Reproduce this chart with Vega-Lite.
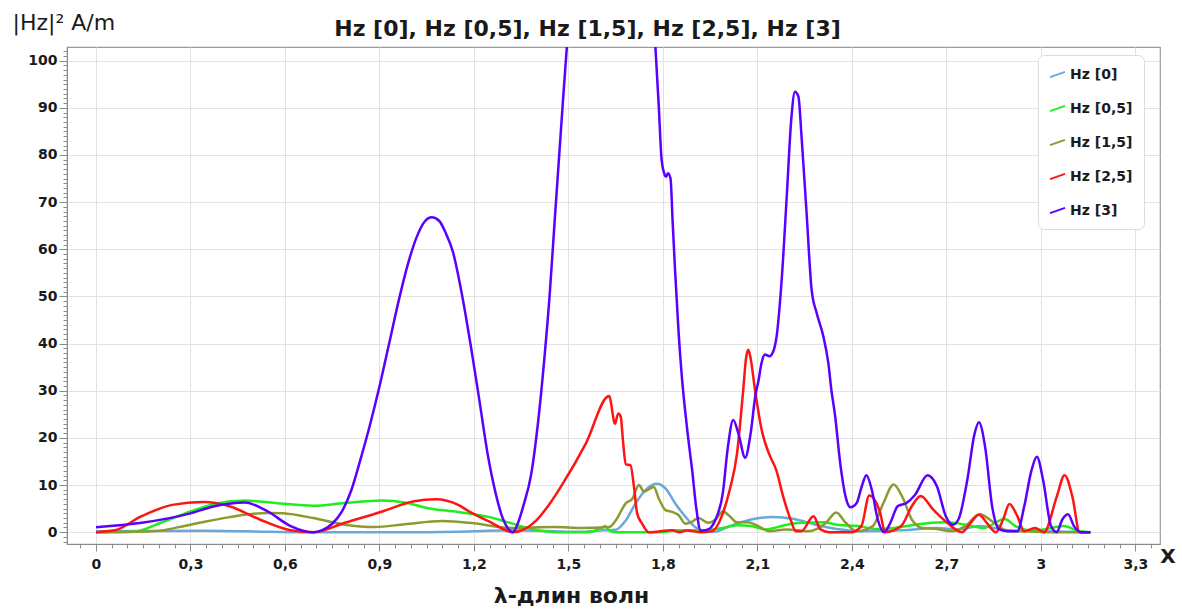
{
  "$schema": "https://vega.github.io/schema/vega-lite/v6.json",
  "width": 1093,
  "height": 497,
  "autosize": {"type": "none"},
  "padding": {"left": 67, "top": 47, "right": 22, "bottom": 66},
  "background": "white",
  "title": {
    "text": "Hz [0], Hz [0,5], Hz [1,5], Hz [2,5], Hz [3]",
    "font": "DejaVu Sans",
    "fontSize": 22,
    "fontWeight": "bold",
    "color": "#1a1a1a",
    "anchor": "middle",
    "dx": -26,
    "dy": 57,
    "baseline": "alphabetic",
    "offset": 10
  },
  "config": {
    "view": {"stroke": "#9a9a9a", "strokeWidth": 1.2},
    "axis": {
      "domainColor": "#8a8a8a",
      "tickColor": "#8a8a8a",
      "gridColor": "#e2e2e2",
      "labelFont": "DejaVu Sans",
      "labelFontWeight": "bold",
      "labelFontSize": 14,
      "labelColor": "#1a1a1a",
      "titleFont": "DejaVu Sans",
      "titleColor": "#1a1a1a"
    }
  },
  "layer": [
    {
      "data": {
        "values": [
          {"s":"Hz [0]","x":0,"y":0.2},{"s":"Hz [0]","x":0.15,"y":0.25},{"s":"Hz [0]","x":0.35,"y":0.3},{"s":"Hz [0]","x":0.55,"y":0.1},{"s":"Hz [0]","x":0.7,"y":0},{"s":"Hz [0]","x":1.0,"y":0},{"s":"Hz [0]","x":1.2,"y":0.2},{"s":"Hz [0]","x":1.32,"y":0.4},{"s":"Hz [0]","x":1.45,"y":0.2},{"s":"Hz [0]","x":1.55,"y":0.1},{"s":"Hz [0]","x":1.61,"y":0.4},{"s":"Hz [0]","x":1.65,"y":0.5},{"s":"Hz [0]","x":1.682,"y":2.5},{"s":"Hz [0]","x":1.713,"y":6.1},{"s":"Hz [0]","x":1.75,"y":9.3},{"s":"Hz [0]","x":1.781,"y":10.3},{"s":"Hz [0]","x":1.808,"y":9.3},{"s":"Hz [0]","x":1.839,"y":6.1},{"s":"Hz [0]","x":1.871,"y":3.3},{"s":"Hz [0]","x":1.902,"y":1.1},{"s":"Hz [0]","x":1.93,"y":0.3},{"s":"Hz [0]","x":1.965,"y":0.1},{"s":"Hz [0]","x":2.012,"y":1.3},{"s":"Hz [0]","x":2.08,"y":2.7},{"s":"Hz [0]","x":2.148,"y":3.2},{"s":"Hz [0]","x":2.216,"y":2.8},{"s":"Hz [0]","x":2.284,"y":1.6},{"s":"Hz [0]","x":2.352,"y":0.7},{"s":"Hz [0]","x":2.42,"y":0.2},{"s":"Hz [0]","x":2.556,"y":0.4},{"s":"Hz [0]","x":2.67,"y":0.9},{"s":"Hz [0]","x":2.738,"y":0.6},{"s":"Hz [0]","x":2.805,"y":1.3},{"s":"Hz [0]","x":2.896,"y":0.4},{"s":"Hz [0]","x":3.01,"y":0.2},{"s":"Hz [0]","x":3.157,"y":0},

          {"s":"Hz [0,5]","x":0,"y":0},{"s":"Hz [0,5]","x":0.12,"y":0.1},{"s":"Hz [0,5]","x":0.206,"y":2.0},{"s":"Hz [0,5]","x":0.3,"y":4.4},{"s":"Hz [0,5]","x":0.376,"y":6.0},{"s":"Hz [0,5]","x":0.473,"y":6.7},{"s":"Hz [0,5]","x":0.57,"y":6.2},{"s":"Hz [0,5]","x":0.69,"y":5.6},{"s":"Hz [0,5]","x":0.79,"y":6.2},{"s":"Hz [0,5]","x":0.909,"y":6.7},{"s":"Hz [0,5]","x":0.98,"y":6.3},{"s":"Hz [0,5]","x":1.055,"y":5.1},{"s":"Hz [0,5]","x":1.15,"y":4.3},{"s":"Hz [0,5]","x":1.25,"y":3.2},{"s":"Hz [0,5]","x":1.303,"y":2.2},{"s":"Hz [0,5]","x":1.377,"y":0.8},{"s":"Hz [0,5]","x":1.46,"y":0},{"s":"Hz [0,5]","x":1.555,"y":0},{"s":"Hz [0,5]","x":1.603,"y":0.8},{"s":"Hz [0,5]","x":1.616,"y":1.3},{"s":"Hz [0,5]","x":1.629,"y":0.4},{"s":"Hz [0,5]","x":1.65,"y":0},{"s":"Hz [0,5]","x":1.717,"y":0},{"s":"Hz [0,5]","x":1.785,"y":0},{"s":"Hz [0,5]","x":1.853,"y":0.4},{"s":"Hz [0,5]","x":1.92,"y":0.4},{"s":"Hz [0,5]","x":1.99,"y":0.9},{"s":"Hz [0,5]","x":2.035,"y":1.5},{"s":"Hz [0,5]","x":2.08,"y":1.3},{"s":"Hz [0,5]","x":2.125,"y":0.6},{"s":"Hz [0,5]","x":2.193,"y":1.6},{"s":"Hz [0,5]","x":2.239,"y":2.0},{"s":"Hz [0,5]","x":2.307,"y":2.1},{"s":"Hz [0,5]","x":2.352,"y":1.6},{"s":"Hz [0,5]","x":2.42,"y":1.3},{"s":"Hz [0,5]","x":2.477,"y":0.7},{"s":"Hz [0,5]","x":2.534,"y":0.9},{"s":"Hz [0,5]","x":2.624,"y":1.8},{"s":"Hz [0,5]","x":2.704,"y":2.1},{"s":"Hz [0,5]","x":2.76,"y":1.6},{"s":"Hz [0,5]","x":2.817,"y":0.9},{"s":"Hz [0,5]","x":2.885,"y":2.8},{"s":"Hz [0,5]","x":2.919,"y":1.3},{"s":"Hz [0,5]","x":2.964,"y":0.4},{"s":"Hz [0,5]","x":3.01,"y":0.6},{"s":"Hz [0,5]","x":3.072,"y":1.3},{"s":"Hz [0,5]","x":3.123,"y":0.2},{"s":"Hz [0,5]","x":3.157,"y":0},

          {"s":"Hz [1,5]","x":0,"y":0},{"s":"Hz [1,5]","x":0.18,"y":0.2},{"s":"Hz [1,5]","x":0.3,"y":1.6},{"s":"Hz [1,5]","x":0.424,"y":3.2},{"s":"Hz [1,5]","x":0.545,"y":4.1},{"s":"Hz [1,5]","x":0.594,"y":4.0},{"s":"Hz [1,5]","x":0.69,"y":3.0},{"s":"Hz [1,5]","x":0.79,"y":1.6},{"s":"Hz [1,5]","x":0.885,"y":1.1},{"s":"Hz [1,5]","x":0.98,"y":1.7},{"s":"Hz [1,5]","x":1.1,"y":2.4},{"s":"Hz [1,5]","x":1.2,"y":1.9},{"s":"Hz [1,5]","x":1.32,"y":0.9},{"s":"Hz [1,5]","x":1.455,"y":1.1},{"s":"Hz [1,5]","x":1.54,"y":0.9},{"s":"Hz [1,5]","x":1.629,"y":1.1},{"s":"Hz [1,5]","x":1.65,"y":2.5},{"s":"Hz [1,5]","x":1.682,"y":6.1},{"s":"Hz [1,5]","x":1.703,"y":7.1},{"s":"Hz [1,5]","x":1.724,"y":10},{"s":"Hz [1,5]","x":1.74,"y":8.6},{"s":"Hz [1,5]","x":1.76,"y":9.3},{"s":"Hz [1,5]","x":1.771,"y":9.6},{"s":"Hz [1,5]","x":1.787,"y":7.1},{"s":"Hz [1,5]","x":1.808,"y":4.7},{"s":"Hz [1,5]","x":1.829,"y":4.3},{"s":"Hz [1,5]","x":1.85,"y":3.6},{"s":"Hz [1,5]","x":1.871,"y":1.8},{"s":"Hz [1,5]","x":1.892,"y":2.2},{"s":"Hz [1,5]","x":1.913,"y":3.0},{"s":"Hz [1,5]","x":1.944,"y":2.0},{"s":"Hz [1,5]","x":1.967,"y":2.7},{"s":"Hz [1,5]","x":1.99,"y":4.4},{"s":"Hz [1,5]","x":2.012,"y":3.4},{"s":"Hz [1,5]","x":2.035,"y":2.1},{"s":"Hz [1,5]","x":2.069,"y":2.1},{"s":"Hz [1,5]","x":2.103,"y":1.3},{"s":"Hz [1,5]","x":2.137,"y":0.2},{"s":"Hz [1,5]","x":2.193,"y":0.6},{"s":"Hz [1,5]","x":2.261,"y":0.2},{"s":"Hz [1,5]","x":2.318,"y":2.0},{"s":"Hz [1,5]","x":2.35,"y":4.2},{"s":"Hz [1,5]","x":2.38,"y":2.0},{"s":"Hz [1,5]","x":2.415,"y":0.2},{"s":"Hz [1,5]","x":2.466,"y":1.3},{"s":"Hz [1,5]","x":2.5,"y":6.2},{"s":"Hz [1,5]","x":2.532,"y":10.1},{"s":"Hz [1,5]","x":2.562,"y":7.2},{"s":"Hz [1,5]","x":2.59,"y":2.7},{"s":"Hz [1,5]","x":2.624,"y":0.9},{"s":"Hz [1,5]","x":2.67,"y":0.7},{"s":"Hz [1,5]","x":2.715,"y":0.2},{"s":"Hz [1,5]","x":2.76,"y":1.3},{"s":"Hz [1,5]","x":2.805,"y":3.8},{"s":"Hz [1,5]","x":2.851,"y":2.0},{"s":"Hz [1,5]","x":2.896,"y":0.2},{"s":"Hz [1,5]","x":2.953,"y":0.2},{"s":"Hz [1,5]","x":3.01,"y":0},{"s":"Hz [1,5]","x":3.157,"y":0},

          {"s":"Hz [2,5]","x":0,"y":0},{"s":"Hz [2,5]","x":0.06,"y":0.4},{"s":"Hz [2,5]","x":0.145,"y":3.4},{"s":"Hz [2,5]","x":0.242,"y":5.8},{"s":"Hz [2,5]","x":0.34,"y":6.4},{"s":"Hz [2,5]","x":0.424,"y":5.5},{"s":"Hz [2,5]","x":0.52,"y":2.7},{"s":"Hz [2,5]","x":0.618,"y":0.4},{"s":"Hz [2,5]","x":0.69,"y":0},{"s":"Hz [2,5]","x":0.79,"y":2.0},{"s":"Hz [2,5]","x":0.909,"y":4.4},{"s":"Hz [2,5]","x":1.006,"y":6.5},{"s":"Hz [2,5]","x":1.079,"y":7.0},{"s":"Hz [2,5]","x":1.15,"y":5.8},{"s":"Hz [2,5]","x":1.187,"y":4.3},{"s":"Hz [2,5]","x":1.248,"y":2.3},{"s":"Hz [2,5]","x":1.324,"y":0},{"s":"Hz [2,5]","x":1.398,"y":2.5},{"s":"Hz [2,5]","x":1.44,"y":6},{"s":"Hz [2,5]","x":1.482,"y":10.3},{"s":"Hz [2,5]","x":1.555,"y":18.8},{"s":"Hz [2,5]","x":1.629,"y":28.9},{"s":"Hz [2,5]","x":1.648,"y":23},{"s":"Hz [2,5]","x":1.658,"y":25.2},{"s":"Hz [2,5]","x":1.666,"y":24.5},{"s":"Hz [2,5]","x":1.673,"y":19.5},{"s":"Hz [2,5]","x":1.682,"y":14.4},{"s":"Hz [2,5]","x":1.697,"y":14.2},{"s":"Hz [2,5]","x":1.708,"y":9.6},{"s":"Hz [2,5]","x":1.718,"y":4},{"s":"Hz [2,5]","x":1.734,"y":1.8},{"s":"Hz [2,5]","x":1.755,"y":0},{"s":"Hz [2,5]","x":1.83,"y":0.4},{"s":"Hz [2,5]","x":1.853,"y":0},{"s":"Hz [2,5]","x":1.876,"y":0.35},{"s":"Hz [2,5]","x":1.92,"y":0},{"s":"Hz [2,5]","x":1.955,"y":0.2},{"s":"Hz [2,5]","x":1.99,"y":4},{"s":"Hz [2,5]","x":2.012,"y":9},{"s":"Hz [2,5]","x":2.035,"y":16.6},{"s":"Hz [2,5]","x":2.055,"y":30.3},{"s":"Hz [2,5]","x":2.064,"y":37},{"s":"Hz [2,5]","x":2.071,"y":38.7},{"s":"Hz [2,5]","x":2.078,"y":37},{"s":"Hz [2,5]","x":2.092,"y":30.3},{"s":"Hz [2,5]","x":2.114,"y":21.5},{"s":"Hz [2,5]","x":2.137,"y":16.6},{"s":"Hz [2,5]","x":2.16,"y":13.1},{"s":"Hz [2,5]","x":2.182,"y":7.5},{"s":"Hz [2,5]","x":2.205,"y":2.7},{"s":"Hz [2,5]","x":2.222,"y":0.2},{"s":"Hz [2,5]","x":2.239,"y":0.2},{"s":"Hz [2,5]","x":2.278,"y":3.4},{"s":"Hz [2,5]","x":2.3,"y":0.6},{"s":"Hz [2,5]","x":2.33,"y":0},{"s":"Hz [2,5]","x":2.397,"y":0},{"s":"Hz [2,5]","x":2.43,"y":1.3},{"s":"Hz [2,5]","x":2.455,"y":7.8},{"s":"Hz [2,5]","x":2.49,"y":4},{"s":"Hz [2,5]","x":2.505,"y":0},{"s":"Hz [2,5]","x":2.556,"y":1.3},{"s":"Hz [2,5]","x":2.59,"y":5.5},{"s":"Hz [2,5]","x":2.618,"y":7.7},{"s":"Hz [2,5]","x":2.658,"y":4.8},{"s":"Hz [2,5]","x":2.703,"y":2.0},{"s":"Hz [2,5]","x":2.749,"y":0},{"s":"Hz [2,5]","x":2.777,"y":2.0},{"s":"Hz [2,5]","x":2.803,"y":3.7},{"s":"Hz [2,5]","x":2.828,"y":2},{"s":"Hz [2,5]","x":2.857,"y":0},{"s":"Hz [2,5]","x":2.88,"y":2.7},{"s":"Hz [2,5]","x":2.9,"y":6.0},{"s":"Hz [2,5]","x":2.925,"y":3.4},{"s":"Hz [2,5]","x":2.947,"y":0.2},{"s":"Hz [2,5]","x":2.981,"y":0.9},{"s":"Hz [2,5]","x":3.01,"y":0},{"s":"Hz [2,5]","x":3.05,"y":7.5},{"s":"Hz [2,5]","x":3.075,"y":12.1},{"s":"Hz [2,5]","x":3.1,"y":7.5},{"s":"Hz [2,5]","x":3.123,"y":0},{"s":"Hz [2,5]","x":3.157,"y":0},

          {"s":"Hz [3]","x":0,"y":1.05},{"s":"Hz [3]","x":0.145,"y":2.0},{"s":"Hz [3]","x":0.3,"y":4.0},{"s":"Hz [3]","x":0.376,"y":5.5},{"s":"Hz [3]","x":0.473,"y":6.3},{"s":"Hz [3]","x":0.545,"y":4.4},{"s":"Hz [3]","x":0.618,"y":1.3},{"s":"Hz [3]","x":0.69,"y":0},{"s":"Hz [3]","x":0.72,"y":0.5},{"s":"Hz [3]","x":0.75,"y":1.8},{"s":"Hz [3]","x":0.78,"y":4.3},{"s":"Hz [3]","x":0.81,"y":8.8},{"s":"Hz [3]","x":0.84,"y":15.5},{"s":"Hz [3]","x":0.87,"y":22.8},{"s":"Hz [3]","x":0.9,"y":30.9},{"s":"Hz [3]","x":0.93,"y":39.8},{"s":"Hz [3]","x":0.96,"y":48.8},{"s":"Hz [3]","x":0.99,"y":56.8},{"s":"Hz [3]","x":1.02,"y":62.9},{"s":"Hz [3]","x":1.045,"y":66.0},{"s":"Hz [3]","x":1.066,"y":66.8},{"s":"Hz [3]","x":1.09,"y":66.0},{"s":"Hz [3]","x":1.11,"y":63.5},{"s":"Hz [3]","x":1.133,"y":59.5},{"s":"Hz [3]","x":1.163,"y":50},{"s":"Hz [3]","x":1.19,"y":39.5},{"s":"Hz [3]","x":1.216,"y":28.5},{"s":"Hz [3]","x":1.245,"y":16},{"s":"Hz [3]","x":1.268,"y":8.5},{"s":"Hz [3]","x":1.29,"y":3.2},{"s":"Hz [3]","x":1.308,"y":0.8},{"s":"Hz [3]","x":1.323,"y":0},{"s":"Hz [3]","x":1.34,"y":2},{"s":"Hz [3]","x":1.356,"y":5.4},{"s":"Hz [3]","x":1.382,"y":12.4},{"s":"Hz [3]","x":1.403,"y":23},{"s":"Hz [3]","x":1.424,"y":37.2},{"s":"Hz [3]","x":1.44,"y":50},{"s":"Hz [3]","x":1.455,"y":64.8},{"s":"Hz [3]","x":1.471,"y":80.3},{"s":"Hz [3]","x":1.485,"y":93.8},{"s":"Hz [3]","x":1.495,"y":103},{"s":"Hz [3]","x":1.52,"y":130},{"s":"Hz [3]","x":1.56,"y":165},{"s":"Hz [3]","x":1.63,"y":185},{"s":"Hz [3]","x":1.7,"y":165},{"s":"Hz [3]","x":1.75,"y":125},{"s":"Hz [3]","x":1.776,"y":103},{"s":"Hz [3]","x":1.787,"y":90},{"s":"Hz [3]","x":1.795,"y":79.6},{"s":"Hz [3]","x":1.803,"y":76.3},{"s":"Hz [3]","x":1.81,"y":75.4},{"s":"Hz [3]","x":1.816,"y":76.1},{"s":"Hz [3]","x":1.824,"y":75},{"s":"Hz [3]","x":1.831,"y":65.5},{"s":"Hz [3]","x":1.839,"y":54.9},{"s":"Hz [3]","x":1.85,"y":42},{"s":"Hz [3]","x":1.86,"y":33},{"s":"Hz [3]","x":1.87,"y":26},{"s":"Hz [3]","x":1.88,"y":20},{"s":"Hz [3]","x":1.893,"y":13},{"s":"Hz [3]","x":1.906,"y":5},{"s":"Hz [3]","x":1.92,"y":0.3},{"s":"Hz [3]","x":1.944,"y":0.6},{"s":"Hz [3]","x":1.967,"y":2.7},{"s":"Hz [3]","x":1.99,"y":8.3},{"s":"Hz [3]","x":2.006,"y":18},{"s":"Hz [3]","x":2.023,"y":23.8},{"s":"Hz [3]","x":2.04,"y":20.8},{"s":"Hz [3]","x":2.061,"y":15.8},{"s":"Hz [3]","x":2.078,"y":20.8},{"s":"Hz [3]","x":2.094,"y":29.2},{"s":"Hz [3]","x":2.103,"y":32},{"s":"Hz [3]","x":2.113,"y":35.9},{"s":"Hz [3]","x":2.124,"y":37.7},{"s":"Hz [3]","x":2.138,"y":37.3},{"s":"Hz [3]","x":2.148,"y":38},{"s":"Hz [3]","x":2.161,"y":41.6},{"s":"Hz [3]","x":2.177,"y":53.6},{"s":"Hz [3]","x":2.193,"y":71.2},{"s":"Hz [3]","x":2.208,"y":88.1},{"s":"Hz [3]","x":2.219,"y":93.4},{"s":"Hz [3]","x":2.23,"y":92.4},{"s":"Hz [3]","x":2.24,"y":83.9},{"s":"Hz [3]","x":2.256,"y":67.7},{"s":"Hz [3]","x":2.272,"y":51.4},{"s":"Hz [3]","x":2.288,"y":46.5},{"s":"Hz [3]","x":2.309,"y":41.6},{"s":"Hz [3]","x":2.325,"y":35.9},{"s":"Hz [3]","x":2.335,"y":30},{"s":"Hz [3]","x":2.346,"y":25},{"s":"Hz [3]","x":2.363,"y":14.5},{"s":"Hz [3]","x":2.38,"y":7.5},{"s":"Hz [3]","x":2.395,"y":5.3},{"s":"Hz [3]","x":2.415,"y":6.2},{"s":"Hz [3]","x":2.431,"y":9.7},{"s":"Hz [3]","x":2.446,"y":12.1},{"s":"Hz [3]","x":2.463,"y":9},{"s":"Hz [3]","x":2.482,"y":2.7},{"s":"Hz [3]","x":2.502,"y":0},{"s":"Hz [3]","x":2.522,"y":2.0},{"s":"Hz [3]","x":2.545,"y":5.5},{"s":"Hz [3]","x":2.573,"y":6.2},{"s":"Hz [3]","x":2.6,"y":7.9},{"s":"Hz [3]","x":2.64,"y":12.1},{"s":"Hz [3]","x":2.67,"y":9.7},{"s":"Hz [3]","x":2.698,"y":3.4},{"s":"Hz [3]","x":2.72,"y":1.6},{"s":"Hz [3]","x":2.738,"y":2.7},{"s":"Hz [3]","x":2.766,"y":11},{"s":"Hz [3]","x":2.789,"y":20.8},{"s":"Hz [3]","x":2.803,"y":23.3},{"s":"Hz [3]","x":2.823,"y":18},{"s":"Hz [3]","x":2.845,"y":5.5},{"s":"Hz [3]","x":2.868,"y":0.6},{"s":"Hz [3]","x":2.896,"y":0.2},{"s":"Hz [3]","x":2.925,"y":0.2},{"s":"Hz [3]","x":2.947,"y":5.5},{"s":"Hz [3]","x":2.97,"y":13.1},{"s":"Hz [3]","x":2.987,"y":16},{"s":"Hz [3]","x":3.007,"y":11},{"s":"Hz [3]","x":3.032,"y":1.3},{"s":"Hz [3]","x":3.05,"y":0},{"s":"Hz [3]","x":3.068,"y":2.7},{"s":"Hz [3]","x":3.086,"y":3.8},{"s":"Hz [3]","x":3.105,"y":1.3},{"s":"Hz [3]","x":3.128,"y":0},{"s":"Hz [3]","x":3.157,"y":0}
        ]
      },
      "mark": {"type": "line", "strokeWidth": 2.5, "interpolate": "monotone", "clip": true},
      "encoding": {
        "x": {
          "field": "x",
          "type": "quantitative",
          "scale": {"domain": [-0.092, 3.378], "nice": false, "zero": false},
          "axis": {
            "title": "λ-длин волн",
            "titleFontSize": 22,
            "titleFontWeight": "bold",
            "titleAlign": "center",
            "titleBaseline": "alphabetic",
            "titleX": 504,
            "titleY": 58,
            "tickCount": 1000,
            "values": [-0.05,0,0.05,0.1,0.15,0.2,0.25,0.3,0.35,0.4,0.45,0.5,0.55,0.6,0.65,0.7,0.75,0.8,0.85,0.9,0.95,1,1.05,1.1,1.15,1.2,1.25,1.3,1.35,1.4,1.45,1.5,1.55,1.6,1.65,1.7,1.75,1.8,1.85,1.9,1.95,2,2.05,2.1,2.15,2.2,2.25,2.3,2.35,2.4,2.45,2.5,2.55,2.6,2.65,2.7,2.75,2.8,2.85,2.9,2.95,3,3.05,3.1,3.15,3.2,3.25,3.3,3.35],
            "labelExpr": "abs(datum.value/0.3 - round(datum.value/0.3)) < 0.001 ? replace(format(datum.value, '.2~f'), '.', ',') : ''",
            "labelPadding": 6,
            "labelFlush": false,
            "labelOverlap": false,
            "tickSize": {"condition": {"test": "abs(datum.value/0.3 - round(datum.value/0.3)) < 0.001", "value": 7}, "value": 4},
            "gridOpacity": {"condition": {"test": "abs(datum.value/0.3 - round(datum.value/0.3)) < 0.001", "value": 1}, "value": 0}
          }
        },
        "y": {
          "field": "y",
          "type": "quantitative",
          "scale": {"domain": [-2.5, 102.9], "nice": false, "zero": false},
          "axis": {
            "title": "|Hz|² A/m",
            "titleFontSize": 22,
            "titleFontWeight": "normal",
            "titleAngle": 0,
            "titleAlign": "left",
            "titleBaseline": "alphabetic",
            "titleX": -55,
            "titleY": -18,
            "tickCount": 1000,
            "values": [-2,-1,0,1,2,3,4,5,6,7,8,9,10,11,12,13,14,15,16,17,18,19,20,21,22,23,24,25,26,27,28,29,30,31,32,33,34,35,36,37,38,39,40,41,42,43,44,45,46,47,48,49,50,51,52,53,54,55,56,57,58,59,60,61,62,63,64,65,66,67,68,69,70,71,72,73,74,75,76,77,78,79,80,81,82,83,84,85,86,87,88,89,90,91,92,93,94,95,96,97,98,99,100,101,102],
            "labelExpr": "datum.value % 10 === 0 ? format(datum.value, 'd') : ''",
            "labelPadding": 2,
            "labelOverlap": false,
            "tickSize": {"condition": {"test": "datum.value % 10 === 0", "value": 8}, "value": 4},
            "gridOpacity": {"condition": {"test": "datum.value % 10 === 0", "value": 1}, "value": 0}
          }
        },
        "color": {
          "field": "s",
          "type": "nominal",
          "scale": {
            "domain": ["Hz [0]", "Hz [0,5]", "Hz [1,5]", "Hz [2,5]", "Hz [3]"],
            "range": ["#6aa8da", "#1eee1e", "#8c9a30", "#ff1414", "#5a00ff"]
          },
          "legend": {
            "title": null,
            "orient": "none",
            "legendX": 971,
            "legendY": 8,
            "direction": "vertical",
            "padding": 11,
            "fillColor": "white",
            "strokeColor": "#dcdcdc",
            "cornerRadius": 6,
            "labelFont": "DejaVu Sans",
            "labelFontSize": 14,
            "labelFontWeight": "bold",
            "labelColor": "#1a1a1a",
            "labelOffset": 4,
            "symbolType": "M-1,0.35L1,-0.35",
            "symbolSize": 225,
            "symbolStrokeWidth": 2,
            "rowPadding": 18
          }
        }
      }
    },
    {
      "data": {"values": [{"label": "X"}]},
      "mark": {"type": "text", "font": "DejaVu Sans", "fontSize": 20, "fontWeight": "bold", "color": "#1a1a1a", "baseline": "middle", "align": "center"},
      "encoding": {
        "x": {"datum": 3.403, "type": "quantitative"},
        "y": {"datum": -5.3, "type": "quantitative"},
        "text": {"field": "label"}
      }
    }
  ]
}
